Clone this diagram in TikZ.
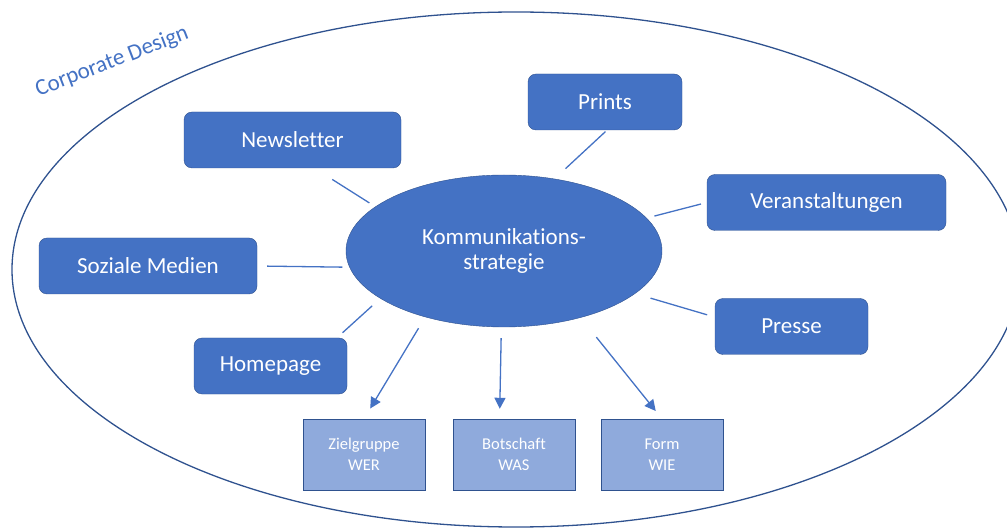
\documentclass[tikz,border=0pt]{standalone}
\usepackage{fontspec}
\setmainfont[Ligatures=NoCommon]{Carlito}
\usepackage{tikz}
\usetikzlibrary{arrows.meta,shapes.geometric}
\definecolor{office}{HTML}{4472C4}
\definecolor{officedark}{HTML}{2F528F}
\definecolor{officelight}{HTML}{8FAADC}

\begin{document}
\begin{tikzpicture}[x=1pt,y=1pt]
  \tikzset{kanal/.style={draw=officedark,fill=office,rounded corners=8pt,minimum height=56pt,inner sep=0pt,text=white,font=\fontsize{23}{25}\selectfont},
           aspekt/.style={draw=officedark,fill=officelight,minimum width=122pt,minimum height=71pt,inner sep=0pt,align=center,text=white,font=\fontsize{16.5}{21}\selectfont},
           link/.style={draw=office,line width=1.3pt},
           pfeil/.style={link,-{Triangle[length=11pt,width=11pt]}}}
  \useasboundingbox (0,0) rectangle (1007,528);
  % outer ellipse
  \draw[officedark,line width=1.3pt] (516,258.5) ellipse [x radius=504,y radius=257.5];
  \node[rotate=21,text=office,font=\fontsize{23}{25}\selectfont] (cd) at (112,466) {Corporate Design};
  \node[ellipse,draw=officedark,fill=office,minimum width=316pt,minimum height=152pt,inner sep=0pt,align=center,text=white,font=\fontsize{23}{25}\selectfont] (ks) at (504,277) {Kommunikations-\\strategie};
  \node[kanal,minimum width=217pt] (nl) at (292.5,388) {Newsletter};
  \node[kanal,minimum width=154pt] (pr) at (605,426) {Prints};
  \node[kanal,minimum width=239pt] (va) at (826.5,325.5) {Veranstaltungen};
  \node[kanal,minimum width=153pt] (pp) at (791.5,201.5) {Presse};
  \node[kanal,minimum width=218pt] (sm) at (148,262) {Soziale Medien};
  \node[kanal,minimum width=153pt] (hp) at (270.5,162) {Homepage};
  \node[aspekt] (zg) at (364,73.5) {Zielgruppe\\WER};
  \node[aspekt] (bs) at (514,73.5) {Botschaft\\WAS};
  \node[aspekt] (fm) at (662,73.5) {Form\\WIE};
  % connectors
  \draw[link,shorten <=21pt,shorten >=7pt] (nl.-52) -- (ks.161);
  \draw[link,shorten <=2pt,shorten >=15pt] (pr.-86) -- (ks.55);
  \draw[link,shorten <=6pt,shorten >=8pt] (va.west) -- (ks.13);
  \draw[link,shorten <=8pt,shorten >=16pt] (pp.173) -- (ks.-18);
  \draw[link,shorten <=10pt,shorten >=7pt] (sm.east) -- (ks.186);
  \draw[link,shorten <=7.5pt,shorten >=11pt] (hp.23) -- (ks.201);
  \draw[pfeil,shorten <=13pt,shorten >=12pt] (ks.220) -- (zg.north);
  \draw[pfeil,shorten <=11pt,shorten >=10pt] (ks.-92) -- (bs.112);
  \draw[pfeil,shorten <=25pt,shorten >=10pt] (ks.-41) -- (fm.north);
\end{tikzpicture}
\end{document}
